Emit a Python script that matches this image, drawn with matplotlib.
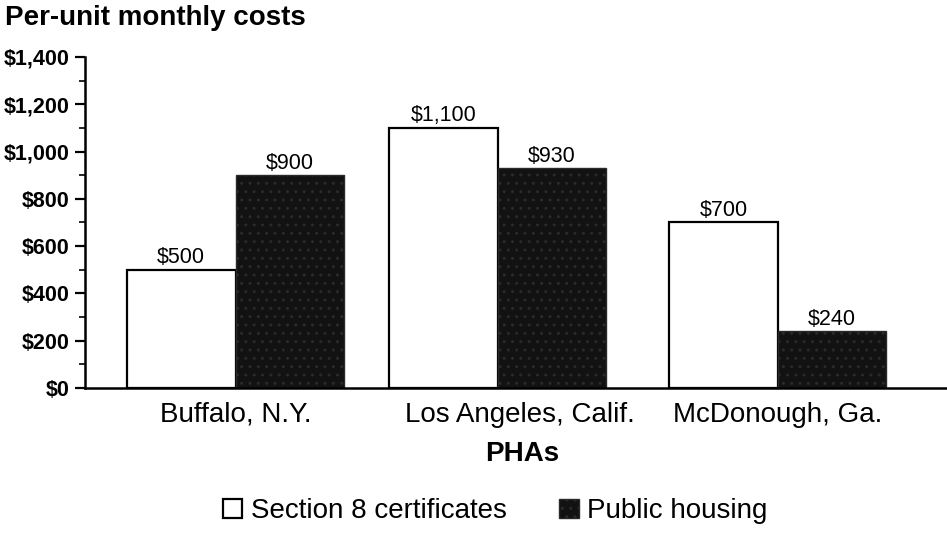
import matplotlib
matplotlib.use("Agg")
import matplotlib.pyplot as plt
import matplotlib.transforms as mtransforms
from matplotlib.ticker import MultipleLocator, FuncFormatter
import numpy as np

categories = ["Buffalo, N.Y.", "Los Angeles, Calif.", "McDonough, Ga."]
section8 = [500, 1100, 700]
public_housing = [900, 930, 240]
section8_labels = ["$500", "$1,100", "$700"]
public_labels = ["$900", "$930", "$240"]

plt.rcParams['font.family'] = ['Liberation Sans', 'DejaVu Sans']

fig = plt.figure(figsize=(9.47, 5.37), dpi=100)
ax = fig.add_axes([0.0898, 0.2775, 0.9102, 0.6165])

x = np.array([0.0, 0.967, 2.0])
w = 0.4
b1 = ax.bar(x - w/2, section8, w, color='white', edgecolor='black', linewidth=1.6,
            label='Section 8 certificates')
b2 = ax.bar(x + w/2, public_housing, w, color='#121212', edgecolor='#2a2a2a', linewidth=1.0,
            hatch='..', label='Public housing')

for rect, lab in zip(b1, section8_labels):
    ax.text(rect.get_x() + rect.get_width()/2, rect.get_height() + 6, lab,
            ha='center', va='bottom', fontsize=15.5)
for rect, lab in zip(b2, public_labels):
    ax.text(rect.get_x() + rect.get_width()/2, rect.get_height() + 6, lab,
            ha='center', va='bottom', fontsize=15.5)

ax.set_ylim(0, 1400)
ax.set_xlim(-0.555, 2.624)
ax.yaxis.set_major_locator(MultipleLocator(200))
ax.yaxis.set_minor_locator(MultipleLocator(100))
ax.yaxis.set_major_formatter(FuncFormatter(lambda v, p: "${:,.0f}".format(v)))
ax.tick_params(axis='y', which='major', length=7, width=1.6, labelsize=15.5, pad=4)
ax.tick_params(axis='y', which='minor', length=4, width=1.2)
for t in ax.get_yticklabels():
    t.set_fontweight('bold')

ax.set_xticks(x)
ax.set_xticklabels(categories, fontsize=20)
ax.tick_params(axis='x', length=0, pad=10)
# the middle label sits a little right of its bars in the original
lbls = ax.get_xticklabels()
lbls[1].set_transform(lbls[1].get_transform() +
                      mtransforms.ScaledTranslation(0.22, 0, fig.dpi_scale_trans))
ax.set_xlabel("PHAs", fontsize=20, fontweight='bold', labelpad=10)
ax.xaxis.set_label_coords(0.5 + 6/862, -0.16)

ax.spines['top'].set_visible(False)
ax.spines['right'].set_visible(False)
ax.spines['left'].set_linewidth(1.8)
ax.spines['bottom'].set_linewidth(1.8)

fig.text(0.005, 0.966, "Per-unit monthly costs", fontsize=20, fontweight='bold',
         ha='left', va='center')

fig.legend(handles=[b1, b2], loc='center', bbox_to_anchor=(0.523, 0.048), ncol=2,
           frameon=False, fontsize=20, handlelength=0.7, handleheight=0.7,
           columnspacing=1.9, handletextpad=0.3)

fig.savefig("out.png", dpi=100)
